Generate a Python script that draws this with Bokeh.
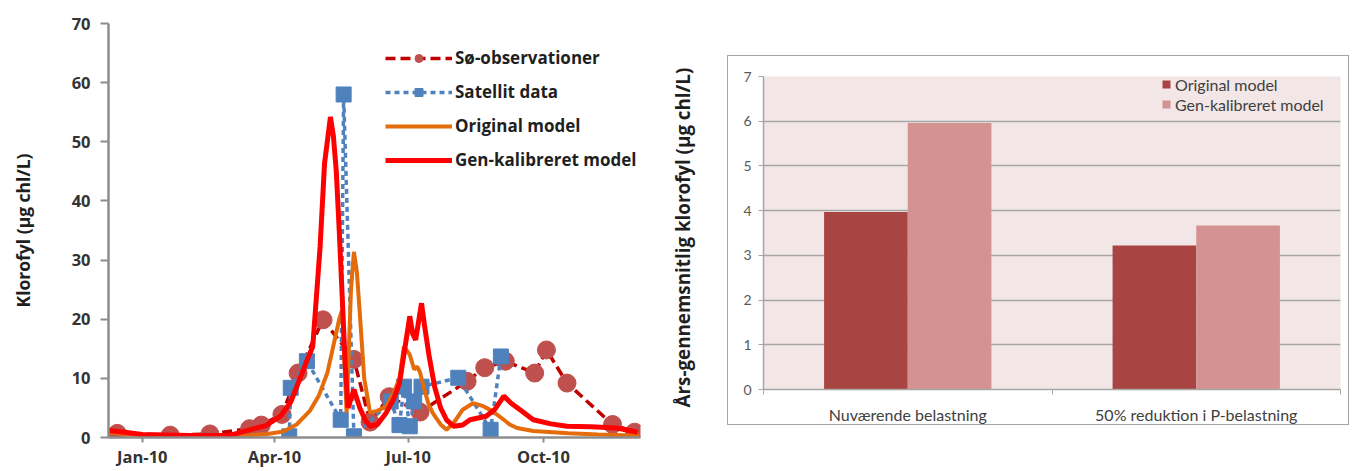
import numpy as np
from bokeh.plotting import figure
from bokeh.models import (Range1d, FixedTicker, SingleIntervalTicker, Legend, LegendItem, Spacer)
from bokeh.layouts import row, column
from bokeh.embed import file_html
from bokeh.resources import INLINE
from bokeh.core.properties import value

# ---------------- data: left chart (days since 2010-01-01) ----------------
tick_days = [0, 90, 181, 273]
tick_labels = ["Jan-10", "Apr-10", "Jul-10", "Oct-10"]

obs_day = [-17, 19, 46, 73, 81, 95, 106, 123, 144, 155, 168, 189, 221, 233, 247, 267, 275, 289, 320, 335]
obs_val = [0.7, 0.4, 0.6, 1.5, 2.1, 3.9, 10.9, 19.9, 13.2, 2.6, 6.9, 4.3, 9.5, 11.8, 12.9, 10.9, 14.8, 9.2, 2.2, 0.9]

sat_day = [100, 101, 112, 135, 137, 144, 169, 175, 178, 182, 185, 190, 215, 237, 244]
sat_val = [0.2, 8.4, 12.9, 3.0, 58.0, 0.2, 6.1, 2.1, 8.6, 1.9, 6.1, 8.6, 10.1, 1.3, 13.7]

orig_day = [-23, -10, 0, 40, 70, 85, 96, 105, 114, 120, 126, 130, 134, 136, 139, 142, 144, 146, 148, 151,
            155, 160, 166, 171, 175, 178, 182, 185, 187, 189, 192, 195, 198, 203, 207, 212, 218, 225, 232,
            238, 246, 250, 255, 266, 290, 310, 338]
orig_val = [0.9, 0.5, 0.4, 0.2, 0.3, 0.6, 1.0, 2.2, 4.5, 7.0, 11.0, 15.5, 20.0, 21.6, 4.2, 25.0, 31.4, 28.0, 21.0, 10.0,
            4.2, 4.5, 5.3, 7.5, 10.0, 15.4, 14.0, 11.5, 12.0, 11.0, 8.0, 5.5, 4.0, 2.2, 1.3, 2.5, 4.7, 5.8, 5.3,
            4.5, 3.0, 2.2, 1.6, 1.1, 0.7, 0.5, 0.3]

gen_day = [-23, -12, 0, 40, 60, 73, 84, 94, 101, 107, 112, 116, 121, 124, 128, 130, 132, 134, 136, 138,
           140, 144, 148, 152, 155, 160, 166, 171, 175, 178, 182, 184, 186, 190, 192, 195, 199, 203, 207,
           212, 218, 223, 234, 240, 246, 251, 257, 266, 278, 289, 305, 323, 337]
gen_val = [1.2, 0.9, 0.5, 0.3, 0.4, 1.3, 2.0, 3.6, 6.0, 9.8, 13.0, 15.4, 32.3, 46.3, 54.2, 51.0, 45.0, 35.0, 24.0, 12.6,
           5.0, 8.1, 5.0, 2.8, 1.9, 2.2, 4.2, 6.5, 9.2, 14.0, 20.5, 17.5, 16.5, 22.7, 19.0, 14.0, 8.5, 5.0, 3.0,
           1.9, 2.1, 3.0, 3.6, 4.8, 7.0, 5.8, 4.7, 3.0, 2.3, 1.9, 1.8, 1.6, 0.9]

# ---------------- data: right chart ----------------
scenarios = ["Nuværende belastning", "50% reduktion i P-belastning"]
orig_mean = [3.97, 3.22]
gen_mean = [5.96, 3.67]

FONT_L = "Open Sans"
FONT_R = "Lato"

# ---------------- left chart ----------------
p = figure(width=668, height=470, x_range=Range1d(-23, 339), y_range=Range1d(0, 70),
           output_backend="svg", toolbar_location=None,
           min_border_left=108, min_border_right=28, min_border_top=23, min_border_bottom=32,
           background_fill_color="white", border_fill_color="white")
p.outline_line_color = None
p.grid.visible = False

r_obs_l = p.line(obs_day, obs_val, line_color="#C00000", line_width=3.5, line_dash="10 5")
r_obs_p = p.scatter(obs_day, obs_val, marker="circle", size=18, fill_color="#C0504D", line_color="#C0504D")
r_sat_l = p.line(sat_day, sat_val, line_color="#4F81BD", line_width=3.5, line_dash="5 4")
r_sat_p = p.scatter(sat_day, sat_val, marker="square", size=15, fill_color="#4F81BD", line_color="#4F81BD")
r_orig = p.line(orig_day, orig_val, line_color="#E46C0A", line_width=4)
r_gen = p.line(gen_day, gen_val, line_color="#FF0000", line_width=5)

p.yaxis.ticker = SingleIntervalTicker(interval=10)
p.xaxis.ticker = FixedTicker(ticks=tick_days)
p.xaxis.major_label_overrides = {d: l for d, l in zip(tick_days, tick_labels)}
for ax in (p.xaxis[0], p.yaxis[0]):
    ax.axis_line_color = "#8C8C8C"
    ax.axis_line_width = 2.5
    ax.major_tick_line_color = "#8C8C8C"
    ax.major_tick_line_width = 2
    ax.major_tick_in = 0
    ax.minor_tick_line_color = None
    ax.major_label_text_font = FONT_L
    ax.major_label_text_font_style = "bold"
    ax.major_label_text_font_size = "16.5px"
    ax.major_label_text_color = "#333333"
p.yaxis.major_tick_out = 8
p.yaxis.major_label_standoff = 10
p.xaxis.major_tick_out = 5
p.xaxis.major_label_standoff = 2
p.yaxis.axis_label = "Klorofyl (µg chl/L)"
p.yaxis.axis_label_text_font = FONT_L
p.yaxis.axis_label_text_font_style = "bold"
p.yaxis.axis_label_text_font_size = "17.5px"
p.yaxis.axis_label_text_color = "#1F1F1F"
p.yaxis.axis_label_standoff = 34

legend = Legend(items=[
    LegendItem(label="Sø-observationer", renderers=[r_obs_l, r_obs_p]),
    LegendItem(label="Satellit data", renderers=[r_sat_l, r_sat_p]),
    LegendItem(label="Original model", renderers=[r_orig]),
    LegendItem(label="Gen-kalibreret model", renderers=[r_gen]),
], location=(277, 266), glyph_width=67, glyph_height=20, label_height=23, spacing=11,
    padding=0, margin=0, border_line_color=None, background_fill_alpha=0,
    label_text_font=FONT_L, label_text_font_style="bold", label_text_font_size="17px",
    label_text_color="#1F1F1F", label_standoff=3)
p.add_layout(legend)

# ---------------- title for right chart ----------------
tf = figure(width=59, height=470, x_range=Range1d(0, 59), y_range=Range1d(470, 0),
            output_backend="svg", toolbar_location=None, min_border=0,
            x_axis_location=None, y_axis_location=None)
tf.outline_line_color = None
tf.grid.visible = False
tf.text(x=[14], y=[243], text=["Års-gennemsnitlig klorofyl (µg chl/L)"], angle=np.pi / 2,
        text_align="center", text_baseline="middle", text_font=value(FONT_L),
        text_font_style="bold", text_font_size="18.8px", text_color="#1F1F1F")

# ---------------- right bar chart ----------------
idx = np.arange(len(scenarios)) + 0.5
bp = figure(width=622, height=370, x_range=Range1d(0, len(scenarios)), y_range=Range1d(0, 7),
            output_backend="svg", toolbar_location=None,
            min_border_left=35, min_border_right=10, min_border_top=20, min_border_bottom=31,
            background_fill_color="#F2E6E6", border_fill_color="white",
            styles={"border": "1.5px solid #A6A6A6"})
bp.outline_line_color = None
r1 = bp.vbar(x=idx - 0.145, top=orig_mean, width=0.29, fill_color="#A84442", line_color=None)
r2 = bp.vbar(x=idx + 0.145, top=gen_mean, width=0.29, fill_color="#D49292", line_color=None)

bp.yaxis.ticker = SingleIntervalTicker(interval=1)
bp.ygrid.grid_line_color = "#A6A6A6"
bp.ygrid.grid_line_width = 1.5
bp.xgrid.grid_line_color = None
bp.xaxis.ticker = FixedTicker(ticks=list(idx), minor_ticks=list(range(len(scenarios) + 1)))
bp.xaxis.major_label_overrides = {float(i): s for i, s in zip(idx, scenarios)}
for ax in (bp.xaxis[0], bp.yaxis[0]):
    ax.axis_line_color = "#A6A6A6"
    ax.axis_line_width = 1.5
    ax.major_label_text_font = FONT_R
    ax.major_label_text_color = "#404040"
bp.xaxis.major_tick_line_color = None
bp.xaxis.major_tick_out = 0
bp.xaxis.major_tick_in = 0
bp.xaxis.minor_tick_line_color = "#A6A6A6"
bp.xaxis.minor_tick_out = 5
bp.xaxis.minor_tick_in = 0
bp.xaxis.major_label_standoff = 10
bp.xaxis.major_label_text_font_size = "16px"
bp.yaxis.major_tick_line_color = "#A6A6A6"
bp.yaxis.major_tick_out = 5
bp.yaxis.major_tick_in = 0
bp.yaxis.minor_tick_line_color = None
bp.yaxis.major_label_standoff = 7
bp.yaxis.major_label_text_font_size = "14px"
bp.yaxis.major_label_text_color = "#595959"

blegend = Legend(items=[
    LegendItem(label="Original model", renderers=[r1]),
    LegendItem(label="Gen-kalibreret model", renderers=[r2]),
], location=(398, 275), glyph_width=10, glyph_height=10, label_height=20, spacing=0,
    padding=0, margin=0, border_line_color=None, background_fill_alpha=0,
    label_text_font=FONT_R, label_text_font_size="16px", label_text_color="#404040",
    label_standoff=4)
bp.add_layout(blegend)

layout = row(p, tf, column(Spacer(width=625, height=55), bp))
open("out.html", "w").write(file_html(layout, INLINE))
